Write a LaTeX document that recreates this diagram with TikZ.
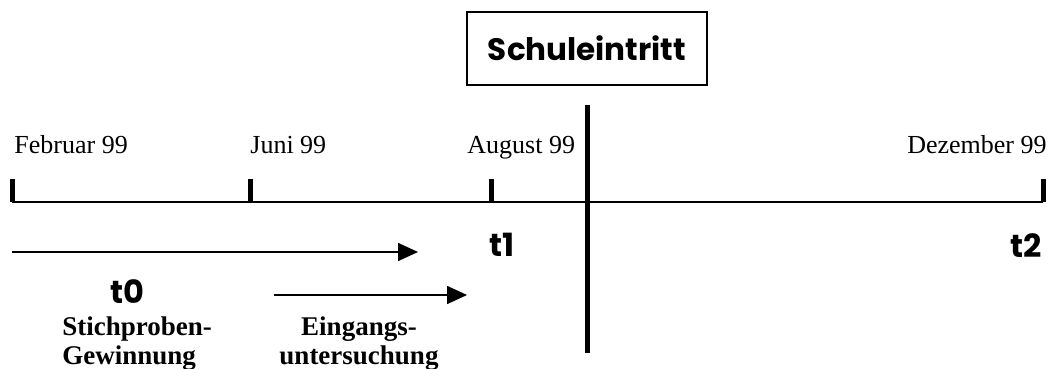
\documentclass[tikz,border=0pt]{standalone}
\usepackage{fontspec}
\setmainfont{Liberation Serif}
\newfontfamily\handfont{Poppins}
\usetikzlibrary{arrows.meta,positioning}

\begin{document}
\begin{tikzpicture}[
  x=0.5pt, y=-0.5pt,
  >={Triangle[length=10pt,width=9pt]},
  month/.style={font=\fontsize{13}{15}\selectfont, inner sep=0pt},
  tlab/.style={font=\handfont\bfseries\fontsize{16}{18}\selectfont, inner sep=0pt},
  task/.style={font=\bfseries\fontsize{13.5}{14.5}\selectfont, inner sep=0pt},
  tick/.style={line width=2.5pt},
  span/.style={->, line width=0.8pt}
]
\useasboundingbox (0,0) rectangle (1050,369);

% --- x locations on the time axis
\def\xFeb{12}
\def\xJun{250}
\def\xAug{491}
\def\xDez{1043}
\def\xIn{587}   % school entry
\def\yAx{202}

\coordinate (feb) at (\xFeb,\yAx);
\coordinate (jun) at (\xJun,\yAx);
\coordinate (aug) at (\xAug,\yAx);
\coordinate (dez) at (\xDez,\yAx);

% --- Axis and month ticks
\draw[line width=1pt] (feb) -- (dez);
\foreach \c in {feb,jun,aug,dez}
  \draw[tick] (\c) -- ++(0,-23);

% --- Month labels
\node[month, anchor=base west] (lfeb) at (14,154) {Februar 99};
\node[month, anchor=base west] (ljun) at (250,154) {Juni 99};
\node[month, anchor=base west] (laug) at (467,154) {August 99};
\node[month, anchor=base east] (ldez) at (1047,154) {Dezember 99};

% --- School entry
\node[draw, line width=0.75pt, minimum width=120pt, minimum height=36.5pt,
      font=\handfont\bfseries\fontsize{15.5}{17}\selectfont] (entry) at (\xIn,48.5) {Schuleintritt};
\coordinate (entrytop) at (\xIn,105);
\coordinate (entrybot) at (\xIn,353);
\draw[line width=2.5pt] (entrytop) -- (entrybot);

% --- Measurement points
\node[tlab] (t0) at (127,292) {t0};
\node[tlab] (t1) at (502,245) {t1};
\node[tlab] (t2) at (1026,246) {t2};

% --- Phases
\coordinate (sampleA) at (12,252);
\coordinate (sampleB) at (418,252);
\draw[span] (sampleA) -- (sampleB);
\coordinate (examA) at (274,295);
\coordinate (examB) at (467,295);
\draw[span] (examA) -- (examB);

\node[task, anchor=north west, align=left] (sample) at (62,316) {Stichproben-\\Gewinnung};
\node[task, anchor=north, align=center] (exam) at (359,316) {Eingangs-\\untersuchung};

\end{tikzpicture}
\end{document}
